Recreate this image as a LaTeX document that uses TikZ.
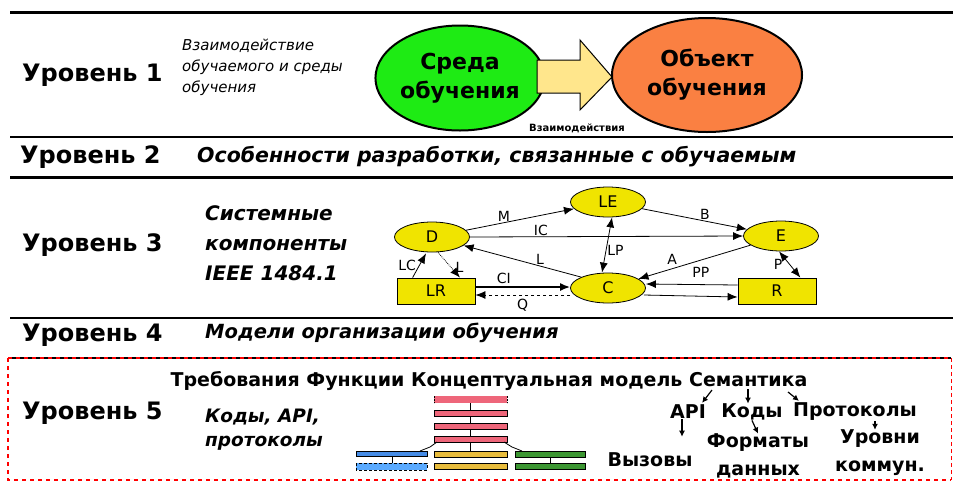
\documentclass[tikz,border=0pt]{standalone}
\usepackage{fontspec}
\setmainfont{DejaVu Sans}
\usetikzlibrary{arrows.meta,shapes.geometric,calc}

\definecolor{envgreen}{RGB}{30,235,20}
\definecolor{objorange}{RGB}{250,128,66}
\definecolor{flowyellow}{RGB}{255,230,140}
\definecolor{compyellow}{RGB}{240,228,0}
\definecolor{barpink}{RGB}{238,102,122}
\definecolor{baryellow}{RGB}{232,188,60}
\definecolor{barblue}{RGB}{70,140,230}
\definecolor{barltblue}{RGB}{90,170,255}
\definecolor{bargreen}{RGB}{60,150,50}

\begin{document}
\begin{tikzpicture}[x=1pt,y=-1pt]
  \tikzset{lvl/.style={font=\fontsize{24}{26}\selectfont\bfseries, anchor=west, inner sep=0pt},
    note/.style={font=\fontsize{19.5}{24}\selectfont\bfseries\itshape, anchor=west, align=left, inner sep=0pt},
    comp/.style={ellipse, draw, line width=0.8pt, fill=compyellow,
      minimum width=75pt, minimum height=30pt, inner sep=0pt, font=\fontsize{16}{16}\selectfont},
    compbox/.style={rectangle, draw, line width=0.8pt, fill=compyellow,
      minimum width=78pt, minimum height=26pt, inner sep=0pt, font=\fontsize{16}{16}\selectfont},
    rel/.style={-{Latex[length=10pt,width=8pt]}, line width=0.8pt},
    relboth/.style={{Latex[length=10pt,width=8pt]}-{Latex[length=10pt,width=8pt]}, line width=0.8pt},
    lab/.style={font=\fontsize{14}{14}\selectfont, inner sep=1pt},
    sem/.style={font=\fontsize{19}{28}\selectfont\bfseries, inner sep=0pt, align=center},
    sarr/.style={-{Latex[length=6pt,width=6pt]}, line width=1.2pt},
    bar/.style={draw, line width=0.8pt}
  }
  \useasboundingbox (0,0) rectangle (953,483);

  % separators
  \draw[line width=3pt] (10,12) -- (953,12);
  \draw[line width=2pt] (10,137) -- (953,137);
  \draw[line width=3pt] (10,177) -- (953,177);
  \draw[line width=2pt] (10,318) -- (953,318);

  % level 1
  \node[lvl] (lvl1) at (22,75) {Уровень 1};
  \node[anchor=west, align=left, inner sep=0pt, font=\fontsize{15}{21}\selectfont\itshape] (lvl1txt) at (182,67)
    {Взаимодействие\\обучаемого и среды\\обучения};
  \node[ellipse, draw, line width=2pt, fill=envgreen, minimum width=156pt, minimum height=105pt,
    inner sep=0pt, align=center, font=\fontsize{22}{29}\selectfont\bfseries] (env) at (460,78) {Среда\\обучения};
  \node[ellipse, draw, line width=2pt, fill=objorange, minimum width=190pt, minimum height=114pt,
    inner sep=0pt, align=center, font=\fontsize{22}{29}\selectfont\bfseries] (obj) at (707,75) {Объект\\обучения};
  \draw[line width=1pt, fill=flowyellow] (537,60) -- (580,60) -- (580,40) -- (612,77) -- (580,110)
    -- (580,93) -- (537,93) -- cycle;
  \node[font=\fontsize{10}{10}\selectfont\bfseries, inner sep=0pt] (act) at (577,128) {Взаимодействия};

  % level 2
  \node[lvl] (lvl2) at (20,157) {Уровень 2};
  \node[note, font=\fontsize{20.5}{24}\selectfont\bfseries\itshape] (lvl2txt) at (197,157)
    {Особенности разработки, связанные с обучаемым};

  % level 3
  \node[lvl] (lvl3) at (22,245) {Уровень 3};
  \node[note, font=\fontsize{20}{30}\selectfont\bfseries\itshape] (lvl3txt) at (205,243)
    {Системные\\компоненты\\IEEE 1484.1};

  \node[comp] (D) at (432,237) {D};
  \node[comp] (LE) at (608,202) {LE};
  \node[comp] (E) at (781,236) {E};
  \node[comp] (C) at (608,288) {C};
  \node[compbox] (LR) at (436,291) {LR};
  \node[compbox] (R) at (777,291) {R};

  \draw[rel] (D) -- (LE) node[lab, pos=0.35, above] {M};
  \draw[rel] (LE) -- (E) node[lab, pos=0.6, above] {B};
  \draw[rel] (D.east) -- (E.west) node[lab, pos=0.26, above] {IC};
  \draw[rel] (C.north west) -- (D) node[lab, pos=0.35, above] {L};
  \draw[relboth] ($(LE.south)+(4,0)$) -- ($(C.north)+(-6,0)$) node[lab, pos=0.6, right] {LP};
  \draw[rel] (E) -- (C) node[lab, pos=0.7, above=3pt] {A};
  \draw[rel] ($(R.west)+(0,-6)$) -- ($(C.east)+(0,-4)$) node[lab, pos=0.4, above=6pt] {PP};
  \draw[rel] ($(C.east)+(-2,7)$) -- ($(R.west)+(0,6)$);
  \draw[relboth] ($(E.south)+(-2,0)$) -- ($(R.north east)+(-16,0)$) node[lab, pos=0.5, left=6pt] {P};
  \draw[rel, line width=1.6pt] ($(LR.east)+(0,-4)$) -- ($(C.west)+(0,-1)$) node[lab, pos=0.3, above=2pt] {CI};
  \draw[rel, dashed] ($(C.west)+(0,7)$) -- ($(LR.east)+(0,4)$) node[lab, pos=0.5, below=3pt] {Q};
  \draw[rel] ($(LR.north west)+(16,0)$) -- ($(D.south)+(-6,1)$) node[lab, pos=0.5, left=2pt] {LC};
  \draw[rel, densely dotted] ($(D.south)+(6,0)$) -- ($(LR.north)+(24,0)$) node[lab, pos=0.6, right=3pt] {L};

  % level 4
  \node[lvl] (lvl4) at (22,335) {Уровень 4};
  \node[note] (lvl4txt) at (205,333) {Модели организации обучения};

  % level 5
  \draw[line width=2pt] (8,358) -- (951,358);
  \draw[red, line width=2pt, dash pattern=on 4pt off 4pt] (8,358) -- (951,358);
  \draw[red, line width=2pt, dash pattern=on 4pt off 4pt] (8,358) -- (8,480) -- (951,480);
  \draw[red, line width=0.8pt, dash pattern=on 4pt off 3pt] (951,358) -- (951,480);

  \node[sem] (req) at (489,381) {Требования Функции Концептуальная модель Семантика};
  \node[lvl] (lvl5) at (22,413) {Уровень 5};
  \node[note, font=\fontsize{18.5}{24}\selectfont\bfseries\itshape] (lvl5txt) at (205,430) {Коды, API,\\протоколы};

  % layer stack
  \draw[line width=0.8pt] (470,403) -- (470,451);
  \fill[barpink] (434,396) rectangle (507,403);
  \draw[densely dotted] (434,396) -- (434,403) (507,396) -- (507,403);
  \foreach \y in {410,423,436}
    \draw[bar, fill=barpink] (434,\y) rectangle (507,\y+6);
  \foreach \y in {451,463}
    \draw[bar, fill=baryellow] (434,\y) rectangle (507,\y+6);
  \draw[line width=0.8pt] (437,442) -- (430,447) -- (420,451);
  \draw[line width=0.8pt] (504,442) -- (512,447) -- (522,451);
  \draw[line width=0.8pt] (392,456) -- (392,463);
  \draw[line width=0.8pt] (550,456) -- (550,463);
  \draw[bar, fill=barblue] (356,451) rectangle (427,456);
  \draw[line width=0.8pt, densely dashed, fill=barltblue] (356,463) rectangle (427,470);
  \foreach \y in {451,463}
    \draw[bar, fill=bargreen] (515,\y) rectangle (585,\y+6);

  % semantics
  \node[sem] (api) at (688,412) {API};
  \node[sem] (codes) at (752,412) {Коды};
  \node[sem] (prot) at (855,412) {Протоколы};
  \node[sem] (calls) at (650,460) {Вызовы};
  \node[sem] (fmt) at (758,456) {Форматы\\данных};
  \node[sem] (lvls) at (880,453) {Уровни\\коммун.};

  \coordinate (s1) at (712,390);
  \coordinate (s2) at (748,389);
  \coordinate (s3) at (788,392);
  \draw[sarr] (s1) -- ($(api.north east)+(-4,-2)$);
  \draw[sarr] (s2) -- (s2 |- codes.north);
  \draw[sarr] (s3) -- ($(prot.north west)+(6,-2)$);
  \draw[sarr, shorten >=16pt] (api.south -| 682,0) -- (calls.north -| 682,0);
  \draw[sarr] (codes.south) -- (fmt.north);
  \draw[sarr] (prot.south -| 875,0) -- (lvls.north -| 875,0);
\end{tikzpicture}
\end{document}
